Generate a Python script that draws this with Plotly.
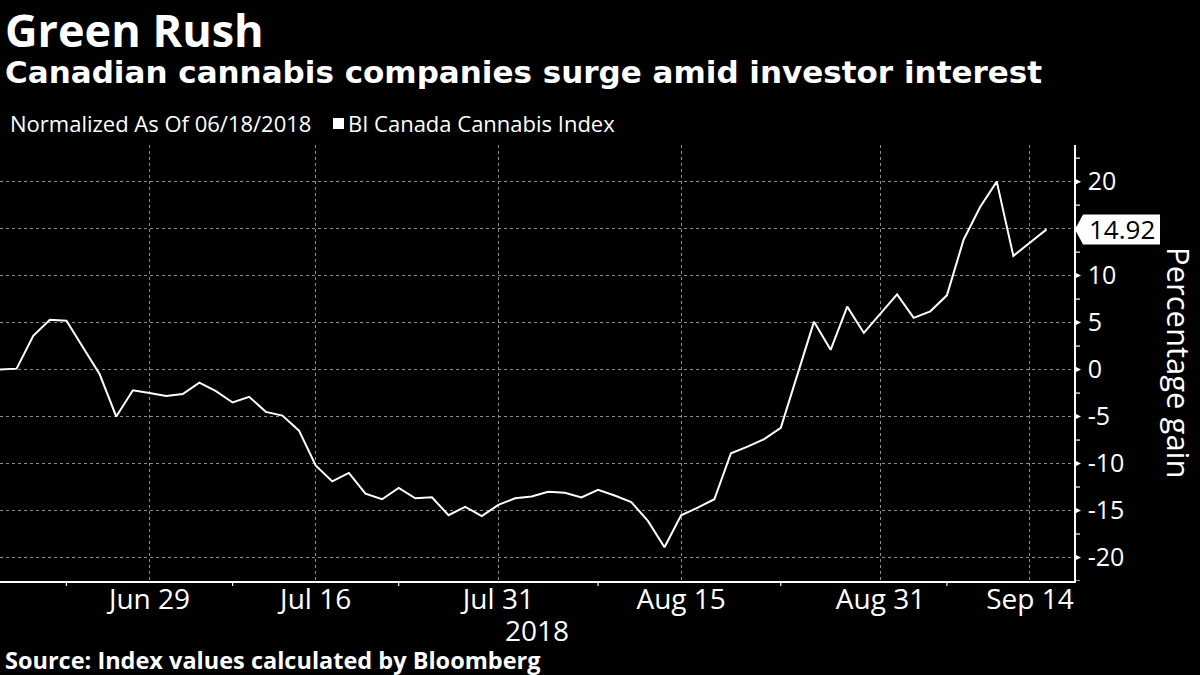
import plotly.graph_objects as go

# ---- data ----
dates = [
    "2018-06-18", "2018-06-19", "2018-06-20", "2018-06-21", "2018-06-22",
    "2018-06-25", "2018-06-26", "2018-06-27", "2018-06-28", "2018-06-29",
    "2018-07-03", "2018-07-04", "2018-07-05", "2018-07-06", "2018-07-09",
    "2018-07-10", "2018-07-11", "2018-07-12", "2018-07-13", "2018-07-16",
    "2018-07-17", "2018-07-18", "2018-07-19", "2018-07-20", "2018-07-23",
    "2018-07-24", "2018-07-25", "2018-07-26", "2018-07-27", "2018-07-30",
    "2018-07-31", "2018-08-01", "2018-08-02", "2018-08-03", "2018-08-06",
    "2018-08-07", "2018-08-08", "2018-08-09", "2018-08-10", "2018-08-13",
    "2018-08-14", "2018-08-15", "2018-08-16", "2018-08-17", "2018-08-20",
    "2018-08-21", "2018-08-22", "2018-08-23", "2018-08-24", "2018-08-27",
    "2018-08-28", "2018-08-29", "2018-08-30", "2018-08-31", "2018-09-04",
    "2018-09-05", "2018-09-06", "2018-09-07", "2018-09-10", "2018-09-11",
    "2018-09-12", "2018-09-13", "2018-09-14", "2018-09-17",
]
values = [
    0.0, 0.1, 3.6, 5.3, 5.2, 2.4, -0.5, -5.0, -2.2, -2.5,
    -2.8, -2.6, -1.4, -2.3, -3.5, -2.9, -4.5, -4.9, -6.5, -10.2,
    -11.9, -11.0, -13.2, -13.8, -12.6, -13.7, -13.6, -15.5, -14.6, -15.6,
    -14.4, -13.7, -13.5, -13.0, -13.1, -13.6, -12.8, -13.4, -14.1, -16.1,
    -18.9, -15.5, -14.7, -13.8, -8.9, -8.2, -7.4, -6.2, -0.5, 5.1,
    2.1, 6.7, 3.9, 5.9, 8.0, 5.5, 6.2, 7.9, 13.8, 17.3,
    20.0, 12.1, 13.5, 14.92,
]
series_name = "BI Canada Cannabis Index"
x_tick_dates = ["2018-06-29", "2018-07-16", "2018-07-31", "2018-08-15", "2018-08-31", "2018-09-14"]
x_tick_labels = ["Jun 29", "Jul 16", "Jul 31", "Aug 15", "Aug 31", "Sep 14"]
x_minor_tick_dates = ["2018-06-22", "2018-07-09", "2018-07-23", "2018-08-08", "2018-08-23", "2018-09-07"]
y_ticks = [-20, -15, -10, -5, 0, 5, 10, 15, 20]
y_tick_labels = ["-20", "-15", "-10", "-5", "0", "5", "10", "15", "20"]
y_minor_ticks = [-22.5, -17.5, -12.5, -7.5, -2.5, 2.5, 7.5, 12.5, 17.5, 22.5]

title = "Green Rush"
subtitle = "Canadian cannabis companies surge amid investor interest"
note = "Normalized As Of 06/18/2018"
source = "Source: Index values calculated by Bloomberg"
y_title = "Percentage gain"
year_label = "2018"

# ---- layout constants (pixels) ----
W, H = 1200, 675
L, R, T, B = 0, 126, 145, 94
PW, PH = W - L - R, H - T - B


def px(xp):
    return (xp - L) / PW


def py(yp):
    return (H - B - yp) / PH


FONT = "Open Sans"
GRID = "#8c8c8c"

fig = go.Figure()
fig.add_trace(go.Scatter(
    x=dates, y=values, mode="lines", name=series_name,
    line=dict(color="white", width=2), showlegend=False, hoverinfo="skip",
))

shapes = []
# y major tick triangles
for v in y_ticks:
    shapes.append(dict(
        type="path", xref="paper", xsizemode="pixel", xanchor=1,
        yref="y", ysizemode="pixel", yanchor=v,
        path="M 0,-3.5 L 7,0 L 0,3.5 Z", fillcolor="white",
        line=dict(width=0), layer="above",
    ))
# y minor ticks
for v in y_minor_ticks:
    shapes.append(dict(
        type="line", xref="paper", xsizemode="pixel", xanchor=1,
        x0=0, x1=6, yref="y", y0=v, y1=v,
        line=dict(color="white", width=1.2), layer="above",
    ))
# x minor ticks
for d in x_minor_tick_dates:
    shapes.append(dict(
        type="line", xref="x", x0=d, x1=d,
        yref="paper", ysizemode="pixel", yanchor=0, y0=0, y1=-5,
        line=dict(color="white", width=1.2), layer="above",
    ))
# last value label box
last_val = values[-1]
shapes.append(dict(
    type="path", xref="paper", xsizemode="pixel", xanchor=1,
    yref="y", ysizemode="pixel", yanchor=last_val,
    path="M 1,0 L 9,15 L 86,15 L 86,-15 L 9,-15 Z",
    fillcolor="white", line=dict(width=0), layer="above",
))
# legend square
shapes.append(dict(
    type="rect", xref="paper", yref="paper",
    x0=px(333), x1=px(344), y0=py(129), y1=py(118),
    fillcolor="white", line=dict(width=0),
))

annotations = [
    dict(text=f"<b>{title}</b>", x=px(3), y=py(30), xref="paper", yref="paper",
         xanchor="left", yanchor="middle", showarrow=False,
         font=dict(family=FONT, size=45, color="white")),
    dict(text=f"<b>{subtitle}</b>", x=px(3), y=py(72), xref="paper", yref="paper",
         xanchor="left", yanchor="middle", showarrow=False,
         font=dict(family="DejaVu Sans", size=31, color="white")),
    dict(text=note, x=px(8), y=py(123), xref="paper", yref="paper",
         xanchor="left", yanchor="middle", showarrow=False,
         font=dict(family=FONT, size=22, color="white")),
    dict(text=series_name, x=px(346), y=py(123), xref="paper", yref="paper",
         xanchor="left", yanchor="middle", showarrow=False,
         font=dict(family=FONT, size=22, color="white")),
    dict(text=f"<b>{source}</b>", x=px(3), y=py(660), xref="paper", yref="paper",
         xanchor="left", yanchor="middle", showarrow=False,
         font=dict(family=FONT, size=23.5, color="white")),
    dict(text=year_label, x=px(537), y=py(630), xref="paper", yref="paper",
         xanchor="center", yanchor="middle", showarrow=False,
         font=dict(family=FONT, size=28, color="white")),
    dict(text=y_title, x=px(1179), y=py(362), xref="paper", yref="paper",
         xanchor="center", yanchor="middle", showarrow=False, textangle=90,
         font=dict(family=FONT, size=31, color="white")),
    dict(text=f"{last_val:.2f}", x=1, xref="paper", xshift=47.5,
         y=last_val, yref="y", xanchor="center", yanchor="middle", showarrow=False,
         font=dict(family=FONT, size=26, color="black")),
]

fig.update_layout(
    width=W, height=H,
    margin=dict(l=L, r=R, t=T, b=B, pad=0),
    paper_bgcolor="black", plot_bgcolor="black",
    showlegend=False,
    shapes=shapes, annotations=annotations,
    xaxis=dict(
        type="category", range=[0, 64.65],
        tickmode="array", tickvals=x_tick_dates, ticktext=x_tick_labels,
        showgrid=True, gridcolor=GRID, gridwidth=1, griddash="3px,3px",
        showline=True, linecolor="white", linewidth=1.5,
        ticks="", ticklabelstandoff=-7,
        tickfont=dict(family=FONT, size=28, color="white"),
        zeroline=False, fixedrange=True,
    ),
    yaxis=dict(
        side="right", range=[-22.5, 23.9],
        tickmode="array", tickvals=y_ticks, ticktext=y_tick_labels,
        showgrid=True, gridcolor=GRID, gridwidth=1, griddash="3px,3px",
        showline=True, linecolor="white", linewidth=1.5,
        ticks="", ticklabelstandoff=7,
        tickfont=dict(family=FONT, size=25, color="white"),
        zeroline=False, fixedrange=True,
    ),
)

fig.write_html(
    "out.html",
    config={"displayModeBar": False},
    post_script="document.body.style.margin='0';document.body.style.background='black';",
)
